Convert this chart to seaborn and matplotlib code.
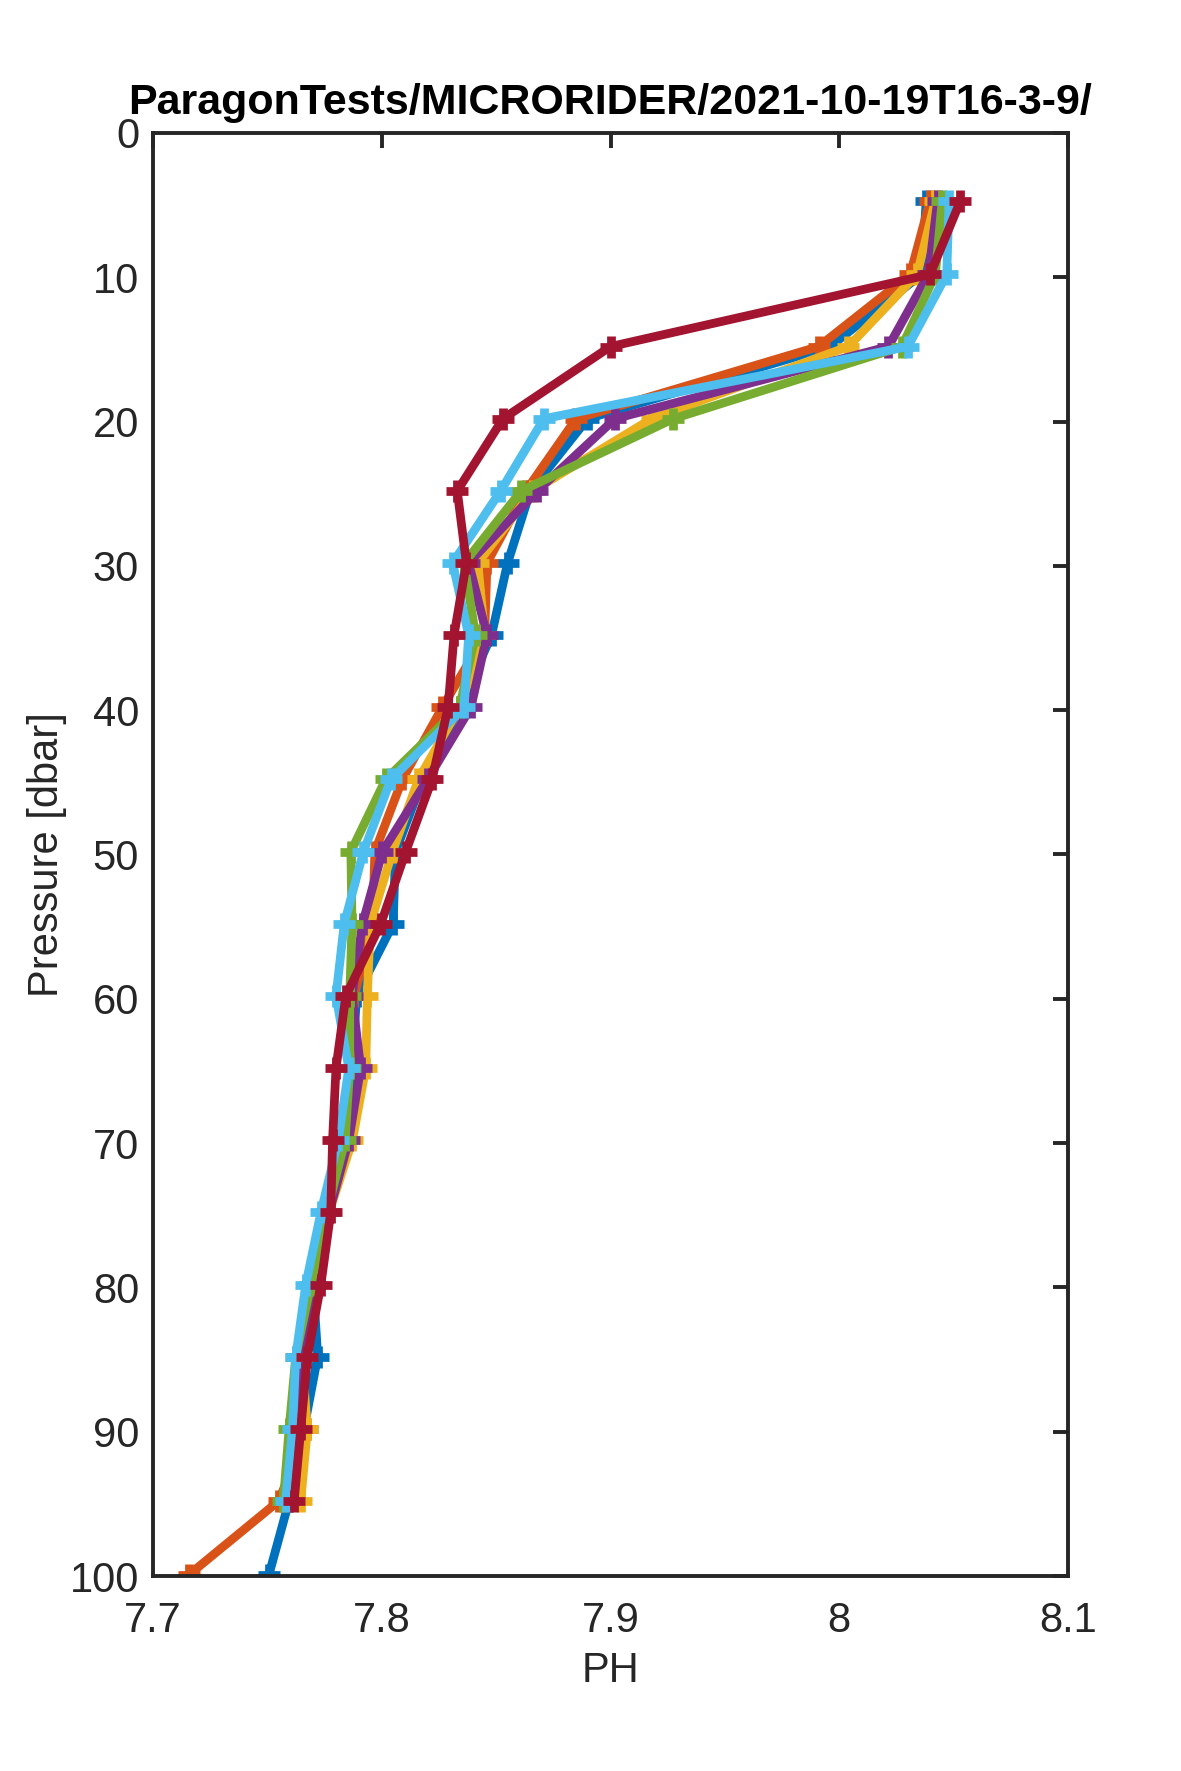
import numpy as np
import pandas as pd
import matplotlib
matplotlib.use("Agg")
import matplotlib.pyplot as plt
import seaborn as sns

sns.set_style("white")
plt.rcParams['font.family'] = ['Liberation Sans', 'DejaVu Sans']

title = "ParagonTests/MICRORIDER/2021-10-19T16-3-9/"
xlabel = "PH"
ylabel = "Pressure [dbar]"

depths = [4.7, 9.8, 14.8, 19.8, 24.8, 29.8, 34.8, 39.8, 44.8, 49.8,
          54.8, 59.8, 64.8, 69.8, 74.8, 79.8, 84.8, 89.8, 94.8, 99.9]

ph_blue = [8.038, 8.036, 7.996, 7.890, 7.865, 7.855, 7.848, 7.834, 7.818, 7.806,
           7.805, 7.789, 7.787, 7.784, 7.776, 7.770, 7.772, 7.766, 7.7595, 7.7507]
ph_orange = [8.0397, 8.031, 7.991, 7.885, 7.863, 7.846, 7.845, 7.8265, 7.809, 7.797,
             7.796, 7.788, 7.786, 7.782, 7.776, 7.770, 7.764, 7.7675, 7.755, 7.7158]
ph_yellow = [8.042, 8.034, 8.004, 7.918, 7.866, 7.842, 7.845, 7.834, 7.816, 7.8047,
             7.795, 7.7937, 7.793, 7.7872, 7.777, 7.770, 7.765, 7.7675, 7.7646]
ph_purple = [8.043, 8.039, 8.0215, 7.902, 7.868, 7.838, 7.846, 7.839, 7.820, 7.8003,
             7.7916, 7.787, 7.7908, 7.7856, 7.777, 7.770, 7.764, 7.762, 7.759]
ph_green = [8.045, 8.042, 8.0274, 7.9275, 7.861, 7.836, 7.841, 7.834, 7.8017, 7.7865,
            7.787, 7.786, 7.786, 7.784, 7.776, 7.769, 7.7624, 7.7595, 7.757]
ph_cyan = [8.048, 8.047, 8.030, 7.8709, 7.852, 7.831, 7.838, 7.836, 7.804, 7.792,
           7.7836, 7.780, 7.7856, 7.781, 7.7734, 7.7668, 7.7624, 7.761, 7.758]
ph_red = [8.053, 8.0397, 7.900, 7.853, 7.833, 7.837, 7.8316, 7.829, 7.822, 7.8105,
          7.7996, 7.7843, 7.780, 7.7785, 7.7777, 7.7734, 7.7675, 7.7646, 7.7617]

series = [ph_blue, ph_orange, ph_yellow, ph_purple, ph_green, ph_cyan, ph_red]
colors = ["#0072BD", "#D95319", "#EDB120", "#7E2F8E", "#77AC30", "#4DBEEE", "#A2142F"]

xticks = [7.7, 7.8, 7.9, 8.0, 8.1]
xticklabels = ["7.7", "7.8", "7.9", "8", "8.1"]
yticks = list(range(0, 101, 10))

W, H = 1181, 1771
fig = plt.figure(figsize=(W / 100, H / 100), dpi=100)
left, right, top, bottom = 153, 1068, 133, 1576
ax = fig.add_axes([left / W, 1 - bottom / H, (right - left) / W, (bottom - top) / H])

for i, (vals, c) in enumerate(zip(series, colors)):
    df = pd.DataFrame({"ph": vals, "p": depths[:len(vals)]})
    sns.lineplot(data=df, x="ph", y="p", sort=False, estimator=None, ax=ax,
                 color=c, marker="+", zorder=3 + i)
    ln = ax.lines[-1]
    ln.set_linewidth(6.3)
    ln.set_markersize(16)
    ln.set_markeredgewidth(6.3)
    ln.set_markeredgecolor(c)
    ln.set_solid_joinstyle("round")
    ln.set_zorder(3 + i)

ax.set_xlim(7.7, 8.1)
ax.set_ylim(100, 0)
ax.set_xticks(xticks)
ax.set_xticklabels(xticklabels)
ax.set_yticks(yticks)

edge = "#262626"
for s in ax.spines.values():
    s.set_visible(True)
    s.set_linewidth(2.8)
    s.set_color(edge)
    s.set_zorder(20)
ax.tick_params(axis="both", direction="in", length=11, width=2.8, colors=edge,
               labelsize=30, top=True, right=True)
ax.tick_params(axis="x", pad=18)
ax.tick_params(axis="y", pad=10)
for lab in ax.get_xticklabels() + ax.get_yticklabels():
    lab.set_color(edge)

ax.set_xlabel(xlabel, fontsize=30, color=edge, labelpad=7)
ax.set_ylabel(ylabel, fontsize=30, color=edge, labelpad=2)
ax.set_title(title, fontsize=31, fontweight="bold", color="black", pad=14)
ax.grid(False)

fig.savefig("out.png", dpi=100, facecolor="white")
